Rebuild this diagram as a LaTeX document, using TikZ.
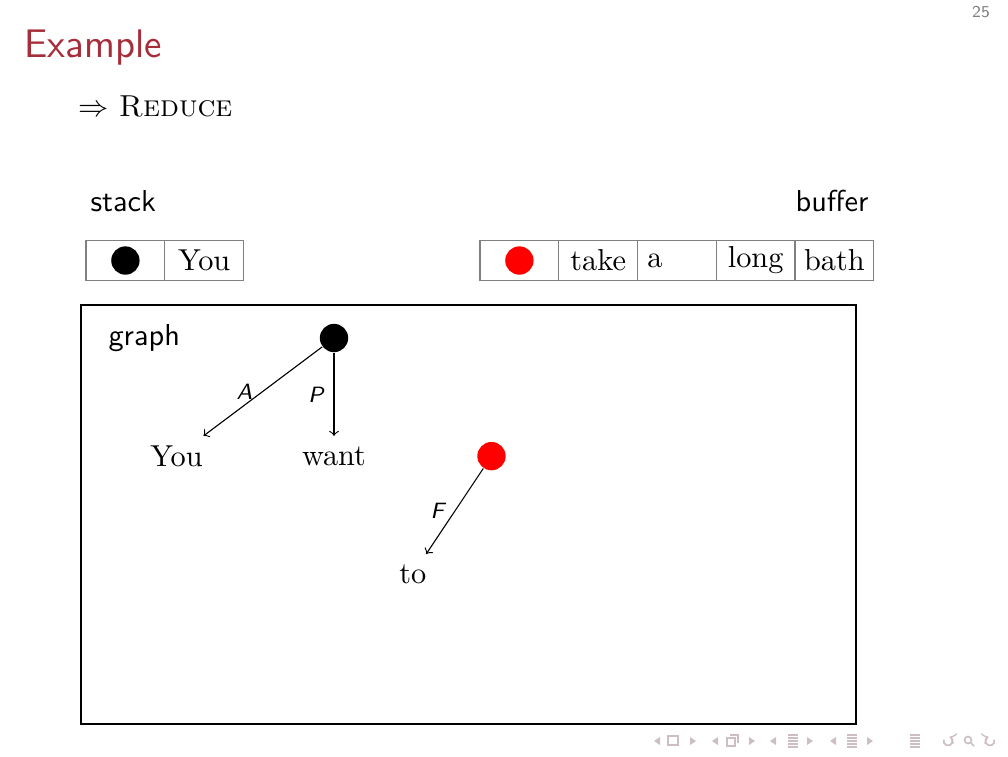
\documentclass[tikz,border=0pt,11pt]{standalone}
\usepackage{color}
\usetikzlibrary{shapes,arrows,positioning}
\definecolor{titlered}{RGB}{166,46,58}
\definecolor{navgray}{RGB}{205,190,195}
\tikzstyle{cell} = [rectangle, draw=gray, minimum width=1cm, minimum height=0.5cm, inner sep=0pt]
\tikzstyle{word} = [rectangle, minimum width=1cm, minimum height=0.5cm, inner sep=0pt]
\tikzstyle{token} = [circle, fill=black, minimum size=3.6mm, inner sep=0pt]
\tikzstyle{line} = [draw, ->]
\tikzstyle{arc} = [font=\sffamily\itshape\scriptsize, left]

\begin{document}
\begin{tikzpicture}[x=0.127mm, y=-0.127mm, node distance=1cm]
		\useasboundingbox (0,0) rectangle (1008,756);
		% slide head
		\node [anchor=base west, inner sep=0pt, font=\sffamily\Large, text=titlered] (title) at (24,57) {Example};
		\node [anchor=base west, inner sep=0pt] (step) at (78,116) {$\Rightarrow$ \textsc{Reduce}};
		\node [inner sep=0pt, font=\sffamily\tiny, text=gray] (page) at (981,12) {25};
		
		% stack
		\node [anchor=base west, inner sep=0pt, font=\sffamily] (stacklabel) at (90,211) {stack};
		\node [cell] (s0) at (125.4,260.5) {};
		\node [token] (s0tok) at (s0) {};
		\node [cell, right of=s0] (s1) {You};
		
		% buffer
		\node [anchor=base east, inner sep=0pt, font=\sffamily] (bufferlabel) at (869,211) {buffer};
		\node [cell] (b0) at (519.4,260.5) {};
		\node [token, fill=red] (b0tok) at (b0) {};
		\node [cell, right of=b0] (b1) {take};
		\node [cell, right of=b1, text width=0.75cm] (b2) {a};
		\node [cell, right of=b2] (b3) {long};
		\node [cell, right of=b3] (b4) {bath};
		
		% graph
		\draw (81,305) rectangle (856,724);
		\node [anchor=base west, inner sep=0pt, font=\sffamily] (graphlabel) at (108,345) {graph};
		\node [token] (root) at (334,338) {};
		\node [word, on grid, below left=1.5cm and 2cm of root] (you) {You};
		\node [word, on grid, below=1.5cm of root] (want) {want};
		\node [token, fill=red, on grid, right=2cm of want] (head) {};
		\node [word, on grid, below left=1.5cm and 1cm of head] (to) {to};
		
		\path [line] (root) -- node [arc] {A} (you);
		\path [line] (root) -- node [arc] {P} (want);
		\path [line] (head) -- node [arc] {F} (to);
		
		% navigation symbols
		\foreach \x in {657,715,773,833}
			\fill [navgray] (\x+3,737) -- (\x-3,741) -- (\x+3,745) -- cycle;
		\foreach \x in {693,752,810,870}
			\fill [navgray] (\x-3,737) -- (\x+3,741) -- (\x-3,745) -- cycle;
		\draw [navgray, line width=0.5pt] (668,736) rectangle (678,745);
		\draw [navgray, line width=0.5pt] (727,738) rectangle (735,746) (730,735) -- (738,735) -- (738,743);
		\foreach \x in {793,852,915}
			\foreach \y in {735,738,741,744,747}
				\draw [navgray, line width=0.6pt] (\x-5,\y) -- (\x+5,\y);
		\draw [navgray, line width=0.6pt, ->] (943.8,739.5) arc [start angle=200, end angle=-70, radius=4.5];
		\draw [navgray, line width=0.6pt] (968,740) circle (3.5) (970.5,742.5) -- (974,746);
		\draw [navgray, line width=0.6pt, ->] (994.2,739.5) arc [start angle=-20, end angle=250, radius=4.5];
	\end{tikzpicture}
\end{document}
